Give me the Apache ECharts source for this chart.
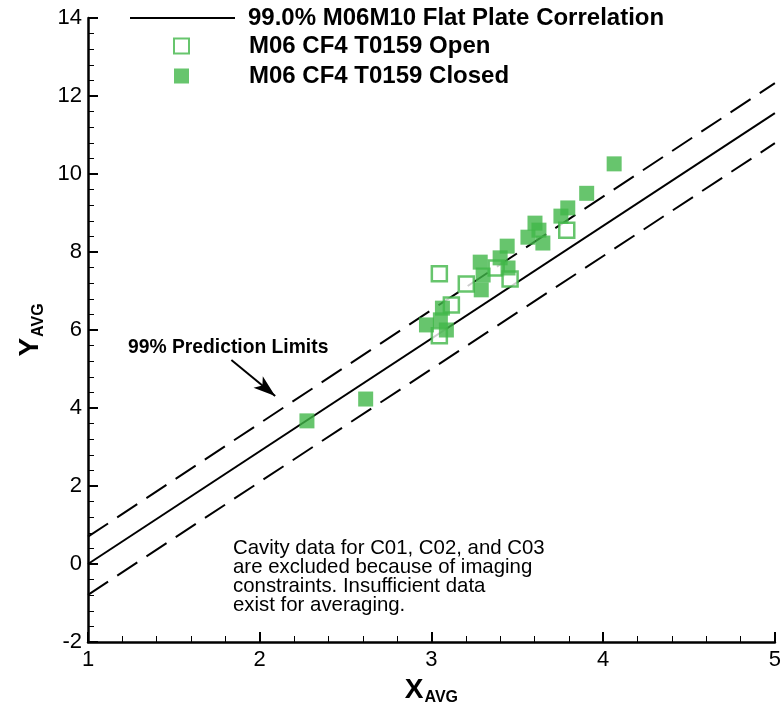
<!DOCTYPE html>
<html>
<head>
<meta charset="utf-8">
<script src="https://cdn.jsdelivr.net/npm/echarts@6/dist/echarts.min.js"></script>
<style>html,body{margin:0;padding:0;background:#fff}#c{width:784px;height:711px}</style>
</head>
<body>
<div id="c"></div>
<script>
// ---- data ----
const fitX = [1, 5];
const fitY = [0, 11.56];
const upperY = [0.70, 12.33];
const lowerY = [-0.79, 10.79];

const openX = [3.046, 3.116, 3.046, 3.203, 3.377, 3.458, 3.788];
const openY = [7.44, 6.64, 5.85, 7.18, 7.59, 7.31, 8.56];

const closedX = [2.275, 2.617, 2.971, 3.064, 3.052, 3.087, 3.284, 3.301, 3.290, 3.441, 3.400, 3.446, 3.603, 3.562, 3.649, 3.626, 3.794, 3.754, 3.904, 4.064];
const closedY = [3.67, 4.23, 6.13, 6.56, 6.26, 6.00, 7.74, 7.41, 7.03, 8.15, 7.85, 7.59, 8.74, 8.38, 8.23, 8.56, 9.13, 8.92, 9.505, 10.26];

const xTicks = [1, 2, 3, 4, 5];
const yTicks = [-2, 0, 2, 4, 6, 8, 10, 12, 14];

const names = {
  fit: '99.0% M06M10 Flat Plate Correlation',
  open: 'M06 CF4 T0159 Open',
  closed: 'M06 CF4 T0159 Closed'
};
const arrowFrom = [1.835, 5.23];
const arrowTo = [2.09, 4.31];

const zip = (a, b) => a.map((v, i) => [v, b[i]]);
const GREEN = '#41b649';
const FONT = 'Liberation Sans, Arial, sans-serif';

const chart = echarts.init(document.getElementById('c'));
const axisCommon = {
  axisLine: { show: true, onZero: false, lineStyle: { color: '#000', width: 2.5 } },
  axisTick: { show: true, inside: true, length: 10, lineStyle: { color: '#000', width: 2 } },
  minorTick: { show: true, splitNumber: 5, length: 6, lineStyle: { color: '#000', width: 1 } },
  splitLine: { show: false },
  axisLabel: { color: '#000', fontSize: 22, fontFamily: FONT },
};
const nameRich = {
  a: { fontSize: 28, fontWeight: 'bold', fontFamily: FONT, color: '#000' },
  b: { fontSize: 16, fontWeight: 'bold', fontFamily: FONT, color: '#000', padding: [16, 0, 0, 1] }
};
chart.setOption({
  animation: false,
  backgroundColor: '#fff',
  grid: { left: 88, right: 6, top: 18, bottom: 69 },
  xAxis: Object.assign({}, axisCommon, {
    type: 'value', min: xTicks[0], max: xTicks[xTicks.length - 1], interval: 1,
    axisLabel: Object.assign({}, axisCommon.axisLabel, { margin: 7 }),
    name: '{a|X}{b|AVG}', nameLocation: 'middle', nameGap: 27,
    nameTextStyle: { rich: nameRich }
  }),
  yAxis: Object.assign({}, axisCommon, {
    type: 'value', min: yTicks[0], max: yTicks[yTicks.length - 1], interval: 2,
    axisLabel: Object.assign({}, axisCommon.axisLabel, { margin: 6 }),
    name: '{a|Y}{b|AVG}', nameLocation: 'middle', nameGap: 38, nameRotate: 90,
    nameTextStyle: { rich: nameRich }
  }),
  legend: [
    {
      data: [names.fit], left: 125, top: 1, orient: 'vertical',
      icon: 'rect', itemWidth: 105, itemHeight: 2,
      textStyle: { fontSize: 24, lineHeight: 24, fontWeight: 'bold', fontFamily: FONT, color: '#000', padding: [0, 0, 0, 8] },
      selectedMode: false
    },
    {
      data: [names.open, names.closed], left: 168, top: 29, orient: 'vertical',
      icon: 'rect', itemWidth: 15, itemHeight: 15, itemGap: 6,
      textStyle: { fontSize: 24, lineHeight: 24, fontWeight: 'bold', fontFamily: FONT, color: '#000', padding: [0, 0, 0, 55] },
      selectedMode: false
    }
  ],
  series: [
    {
      name: names.fit, type: 'line', data: zip(fitX, fitY), showSymbol: false, symbol: 'none',
      color: '#000', lineStyle: { color: '#000', width: 2 }, silent: true, z: 2
    },
    {
      name: 'upper', type: 'line', data: zip(fitX, upperY), showSymbol: false, symbol: 'none',
      lineStyle: { color: '#000', width: 2, type: [24, 11] }, silent: true, z: 2,
      markLine: {
        silent: true, symbol: ['none', 'arrow'], symbolSize: [11, 22],
        lineStyle: { color: '#000', width: 2, type: 'solid' }, label: { show: false },
        data: [[{ coord: arrowFrom }, { coord: arrowTo }]]
      }
    },
    {
      name: 'lower', type: 'line', data: zip(fitX, lowerY), showSymbol: false, symbol: 'none',
      lineStyle: { color: '#000', width: 2, type: [24, 11] }, silent: true, z: 2
    },
    {
      name: names.open, type: 'scatter', data: zip(openX, openY), symbol: 'rect', symbolSize: 15,
      itemStyle: { color: '#fff', borderColor: GREEN, borderWidth: 2.5 }, z: 3
    },
    {
      name: names.closed, type: 'scatter', data: zip(closedX, closedY), symbol: 'rect', symbolSize: 15,
      itemStyle: { color: GREEN, borderColor: GREEN, borderWidth: 0 }, z: 4
    }
  ],
  graphic: [
    {
      type: 'text', left: 128, top: 338,
      style: { text: '99% Prediction Limits', fontSize: 19.3, fontWeight: 'bold', fontFamily: FONT, fill: '#000' }
    },
    {
      type: 'text', left: 233, top: 538,
      style: {
        text: 'Cavity data for C01, C02, and C03\nare excluded because of imaging\nconstraints. Insufficient data\nexist for averaging.',
        fontSize: 20.4, lineHeight: 19, fontFamily: FONT, fill: '#000'
      }
    }
  ]
});
</script>
</body>
</html>
